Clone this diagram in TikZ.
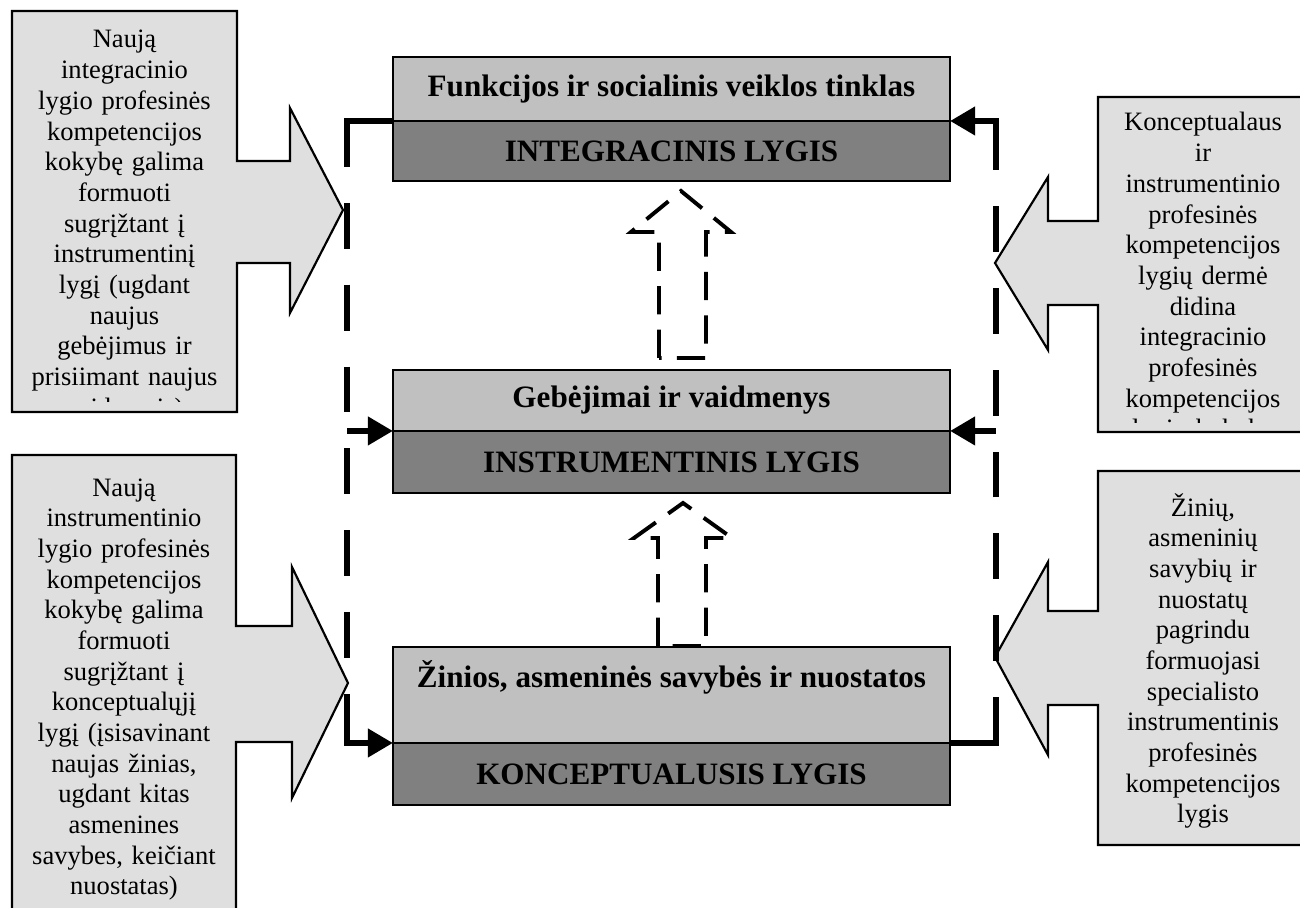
\documentclass[tikz,border=0pt]{standalone}
\usepackage{fontspec}
\setmainfont{Liberation Serif}
\usetikzlibrary{arrows.meta}
\definecolor{lvllight}{HTML}{C0C0C0}
\definecolor{lvldark}{HTML}{808080}
\definecolor{notegray}{HTML}{DFDFDF}

\begin{document}
\begin{tikzpicture}[x=0.4596pt, y=-0.4596pt, >={Triangle[length=11.5pt,width=12.5pt]}]
    \tikzstyle{box_light} = [draw=black, line width=0.9pt, fill=lvllight, minimum width=256pt, inner sep=0pt, outer sep=0pt, font=\fontsize{14.3}{16}\selectfont\bfseries]
    \tikzstyle{box_dark} = [box_light, fill=lvldark, anchor=north]
    \tikzstyle{title_text} = [anchor=base, inner sep=0pt, font=\fontsize{14.3}{16}\selectfont\bfseries]
    \tikzstyle{note_shape} = [draw=black, line width=1pt, fill=notegray]
    \tikzstyle{note_text} = [anchor=base, text width=100pt, align=center, inner sep=0pt, font=\fontsize{12.2}{14.1}\selectfont]
    \tikzstyle{loop_style} = [draw=black, line width=3pt, ->, dash pattern=on 42.3pt off 16.5pt on 21.1pt off 16.5pt on 21.1pt off 16.5pt on 21.1pt off 16.5pt on 21.1pt off 16.5pt on 21.1pt off 16.5pt on 21.1pt off 16.5pt on 100pt]
    \tikzstyle{side_arrow} = [draw=black, line width=3pt, ->]
    \tikzstyle{up_arrow} = [draw=black, line width=1.8pt, dash pattern=on 13pt off 7pt]
    \useasboundingbox (0,0) rectangle (1300,908);
    \clip (0,0) rectangle (1300,908);

    \filldraw[note_shape] (12,11) -- (237,11) -- (237,161) -- (290,161) -- (290,108) -- (343,210) -- (290,313) -- (290,263) -- (237,263) -- (237,412) -- (12,412) -- cycle;
    \filldraw[note_shape] (12,455) -- (236,455) -- (236,626) -- (292,626) -- (292,567) -- (348,683) -- (292,798) -- (292,742) -- (236,742) -- (236,930) -- (12,930) -- cycle;
    \filldraw[note_shape] (1308,97) -- (1098,97) -- (1098,221) -- (1048,221) -- (1048,177) -- (995,263) -- (1048,350) -- (1048,305) -- (1098,305) -- (1098,432) -- (1308,432) -- cycle;
    \filldraw[note_shape] (1308,471) -- (1098,471) -- (1098,611) -- (1048,611) -- (1048,562) -- (995,657) -- (1048,755) -- (1048,705) -- (1098,705) -- (1098,845) -- (1308,845) -- cycle;

    \begin{scope}
        \clip (14,13) rectangle (235,402);
        \node[note_text] (note_lt) at (124.5,48) {Naują\\integracinio\\lygio profesinės\\kompetencijos\\kokybę galima\\formuoti\\sugrįžtant į\\instrumentinį\\lygį (ugdant\\naujus\\gebėjimus ir\\prisiimant naujus\\vaidmenis)};
    \end{scope}
    \node[note_text] (note_lb) at (124,496) {Naują\\instrumentinio\\lygio profesinės\\kompetencijos\\kokybę galima\\formuoti\\sugrįžtant į\\konceptualųjį\\lygį (įsisavinant\\naujas žinias,\\ugdant kitas\\asmenines\\savybes, keičiant\\nuostatas)};
    \begin{scope}
        \clip (1100,99) rectangle (1306,423);
        \node[note_text] (note_rt) at (1203,131) {Konceptualaus\\ir\\instrumentinio\\profesinės\\kompetencijos\\lygių dermė\\didina\\integracinio\\profesinės\\kompetencijos\\lygio kokybę};
    \end{scope}
    \node[note_text] (note_rb) at (1203,516) {Žinių,\\asmeninių\\savybių ir\\nuostatų\\pagrindu\\formuojasi\\specialisto\\instrumentinis\\profesinės\\kompetencijos\\lygis};

    \node[box_light, minimum height=29.4pt] (int_light) at (671.5,89) {Funkcijos ir socialinis veiklos tinklas};
    \node[box_dark, minimum height=27.6pt] (int_dark) at (int_light.south) {INTEGRACINIS LYGIS};
    \node[box_light, minimum height=28pt] (instr_light) at (671.5,400.5) {Gebėjimai ir vaidmenys};
    \node[box_dark, minimum height=28.5pt] (instr_dark) at (instr_light.south) {INSTRUMENTINIS LYGIS};
    \node[box_light, minimum height=44.1pt] (konc_light) at (671.5,695) {};
    \node[title_text] (konc_title) at (671.5,687) {Žinios, asmeninės savybės ir nuostatos};
    \node[box_dark, minimum height=28.5pt] (konc_dark) at (konc_light.south) {KONCEPTUALUSIS LYGIS};

    \coordinate (mid_l) at ([xshift=-21.1pt]instr_dark.north west);
    \coordinate (mid_r) at ([xshift=21.1pt]instr_dark.north east);

    \draw[loop_style] (int_dark.north west) -- ++(-46,0) |- (konc_dark.north west);
    \draw[loop_style] (konc_dark.north east) -- ++(46,0) |- (int_dark.north east);
    \draw[side_arrow] (mid_l) -- (instr_dark.north west);
    \draw[side_arrow] (mid_r) -- (instr_dark.north east);

    \draw[up_arrow] (659,358) -- (659,232) -- (631,232) -- (681,191) -- (731,232) -- (706,232) -- (706,358) -- cycle;
    \draw[up_arrow] (658,646) -- (658,538) -- (634,538) -- (683,503) -- (732,538) -- (706,538) -- (706,646) -- cycle;
\end{tikzpicture}
\end{document}
